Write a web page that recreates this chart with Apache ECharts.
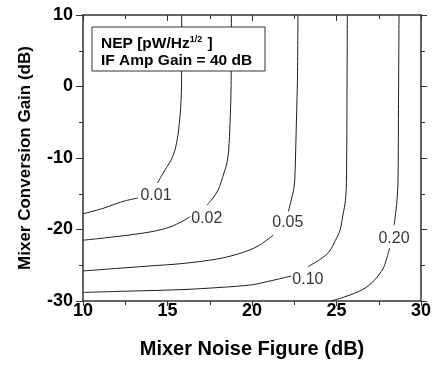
<!DOCTYPE html>
<html><head><meta charset="utf-8">
<script src="https://cdn.jsdelivr.net/npm/echarts@6/dist/echarts.min.js"></script>
<style>html,body{margin:0;padding:0;background:#fff}#c{width:438px;height:365px}</style>
</head><body><div id="c"></div>
<script>
// Contour lines of NEP [pW/Hz^1/2]: [noise figure dB, conversion gain dB]
const nep001Upper = [[15.84,10],[15.83,0.2],[15.77,-3.3],[15.70,-5.1],[15.62,-6.8],[15.44,-8.9],[15.21,-10.3],[14.95,-11.3],[14.67,-12.4],[14.40,-13.5]];
const nep001Lower = [[13.25,-15.6],[12.56,-15.95],[11.89,-16.45],[11.18,-17.05],[10,-17.8]];
const nep002Upper = [[18.78,10],[18.76,-0.5],[18.70,-5.1],[18.62,-8.9],[18.49,-11.0],[18.34,-12.1],[18.17,-13.4],[17.99,-14.5],[17.69,-15.6],[17.34,-16.6]];
const nep002Lower = [[16.35,-18.2],[15.92,-18.8],[15.15,-19.65],[13.96,-20.35],[11.95,-21.0],[10,-21.5]];
const nep005Upper = [[22.72,10],[22.69,0.9],[22.66,-1.9],[22.60,-7.5],[22.53,-13.1],[22.46,-14.5],[22.35,-15.6],[22.15,-17.5]];
const nep005Lower = [[21.26,-20.8],[20.47,-22.15],[19.88,-22.85],[18.99,-23.55],[17.89,-24.15],[15.92,-24.75],[13.95,-25.1],[11.97,-25.45],[10,-25.8]];
const nep010Upper = [[25.64,10],[25.62,-1.9],[25.59,-13.1],[25.53,-15.9],[25.38,-18.0],[25.21,-20.1],[24.94,-21.5],[24.57,-23.1],[24.02,-24.2],[23.31,-25.2]];
const nep010Lower = [[22.33,-26.5],[21.07,-27.2],[19.96,-27.75],[18.11,-28.1],[15.92,-28.4],[12.96,-28.6],[10,-28.8]];
const nep020Upper = [[28.70,10],[28.67,-1.9],[28.64,-13.1],[28.58,-15.9],[28.52,-17.3],[28.41,-19.4]];
const nep020Lower = [[28.14,-22.6],[27.81,-25.2],[27.46,-26.5],[27.12,-27.4],[26.69,-28.2],[26.09,-28.9],[25.38,-29.5],[24.67,-30]];
// Contour label anchors: [noise figure, gain, text]
const contourLabels = [[14.32,-15.3,'0.01'],[17.32,-18.45,'0.02'],[22.12,-19.05,'0.05'],[23.31,-26.95,'0.10'],[28.40,-21.25,'0.20']];

const xMin = 10, xMax = 30, xStep = 5;
const yMin = -30, yMax = 10, yStep = 10;
const xTitle = 'Mixer Noise Figure (dB)';
const yTitle = 'Mixer Conversion Gain (dB)';

const FONT = '"Liberation Sans", Arial, sans-serif';
const segments = [nep001Upper, nep001Lower, nep002Upper, nep002Lower, nep005Upper, nep005Lower, nep010Upper, nep010Lower, nep020Upper, nep020Lower];

const chart = echarts.init(document.getElementById('c'), null, {renderer: 'canvas'});
const axisLine = {show: true, onZero: false, lineStyle: {color: '#333', width: 1.5}};
const baseX = {type: 'value', min: xMin, max: xMax, interval: xStep, splitLine: {show: false}, axisLine: axisLine};
const baseY = {type: 'value', min: yMin, max: yMax, interval: yStep, splitLine: {show: false}, axisLine: axisLine};

chart.setOption({
  animation: false,
  backgroundColor: '#fff',
  grid: {left: 83, right: 17, top: 15, bottom: 64},
  xAxis: [
    Object.assign({}, baseX, {
      position: 'bottom',
      axisTick: {show: true, inside: false, length: 5, lineStyle: {color: '#333'}},
      minorTick: {show: true, splitNumber: 2, length: 4, lineStyle: {color: '#333'}},
      axisLabel: {margin: 1, fontSize: 18, fontWeight: 'bold', color: '#000', fontFamily: FONT},
      name: xTitle, nameLocation: 'middle', nameGap: 38,
      nameTextStyle: {fontSize: 20, fontWeight: 'bold', color: '#000', fontFamily: FONT}
    }),
    Object.assign({}, baseX, {
      position: 'top',
      axisTick: {show: true, inside: true, length: 6, lineStyle: {color: '#333'}},
      minorTick: {show: true, splitNumber: 2, length: 4, lineStyle: {color: '#333'}},
      axisLabel: {show: false}
    })
  ],
  yAxis: [
    Object.assign({}, baseY, {
      position: 'left',
      axisTick: {show: true, inside: false, length: 7, lineStyle: {color: '#333'}},
      minorTick: {show: true, splitNumber: 2, length: 4, lineStyle: {color: '#333'}},
      axisLabel: {margin: 10, fontSize: 18, fontWeight: 'bold', color: '#000', fontFamily: FONT},
      name: yTitle, nameLocation: 'middle', nameGap: 49,
      nameTextStyle: {fontSize: 17, fontWeight: 'bold', color: '#000', fontFamily: FONT}
    }),
    Object.assign({}, baseY, {
      position: 'right',
      axisTick: {show: true, inside: false, length: 6, lineStyle: {color: '#333'}},
      minorTick: {show: true, splitNumber: 2, length: 4, lineStyle: {color: '#333'}},
      axisLabel: {show: false}
    })
  ],
  series: segments.map(seg => ({
    type: 'line', data: seg, xAxisIndex: 0, yAxisIndex: 0,
    showSymbol: false, smooth: 0.3, silent: true,
    lineStyle: {color: '#1e1e1e', width: 1}
  })).concat([{
    type: 'scatter', data: contourLabels, symbolSize: 0, silent: true,
    xAxisIndex: 0, yAxisIndex: 0,
    label: {show: true, position: 'inside', formatter: p => p.data[2],
      fontSize: 16, color: '#000', fontFamily: FONT}
  }]),
  graphic: [
    {type: 'rect', z: 100, shape: {x: 92, y: 27, width: 173, height: 44},
     style: {fill: '#fff', stroke: '#333', lineWidth: 1}},
    {type: 'text', z: 101, x: 101, y: 35,
     style: {
       text: '{a|NEP [pW/Hz}{s|1/2}{a| ]}\n{a|IF Amp Gain = 40 dB}',
       rich: {
         a: {fontSize: 15.5, fontWeight: 'bold', fontFamily: FONT, fill: '#000', lineHeight: 17},
         s: {fontSize: 9, fontWeight: 'bold', fontFamily: FONT, fill: '#000', verticalAlign: 'top', lineHeight: 17, padding: [0, 1, 0, 0]}
       }
     }}
  ]
});
</script>
</body></html>
